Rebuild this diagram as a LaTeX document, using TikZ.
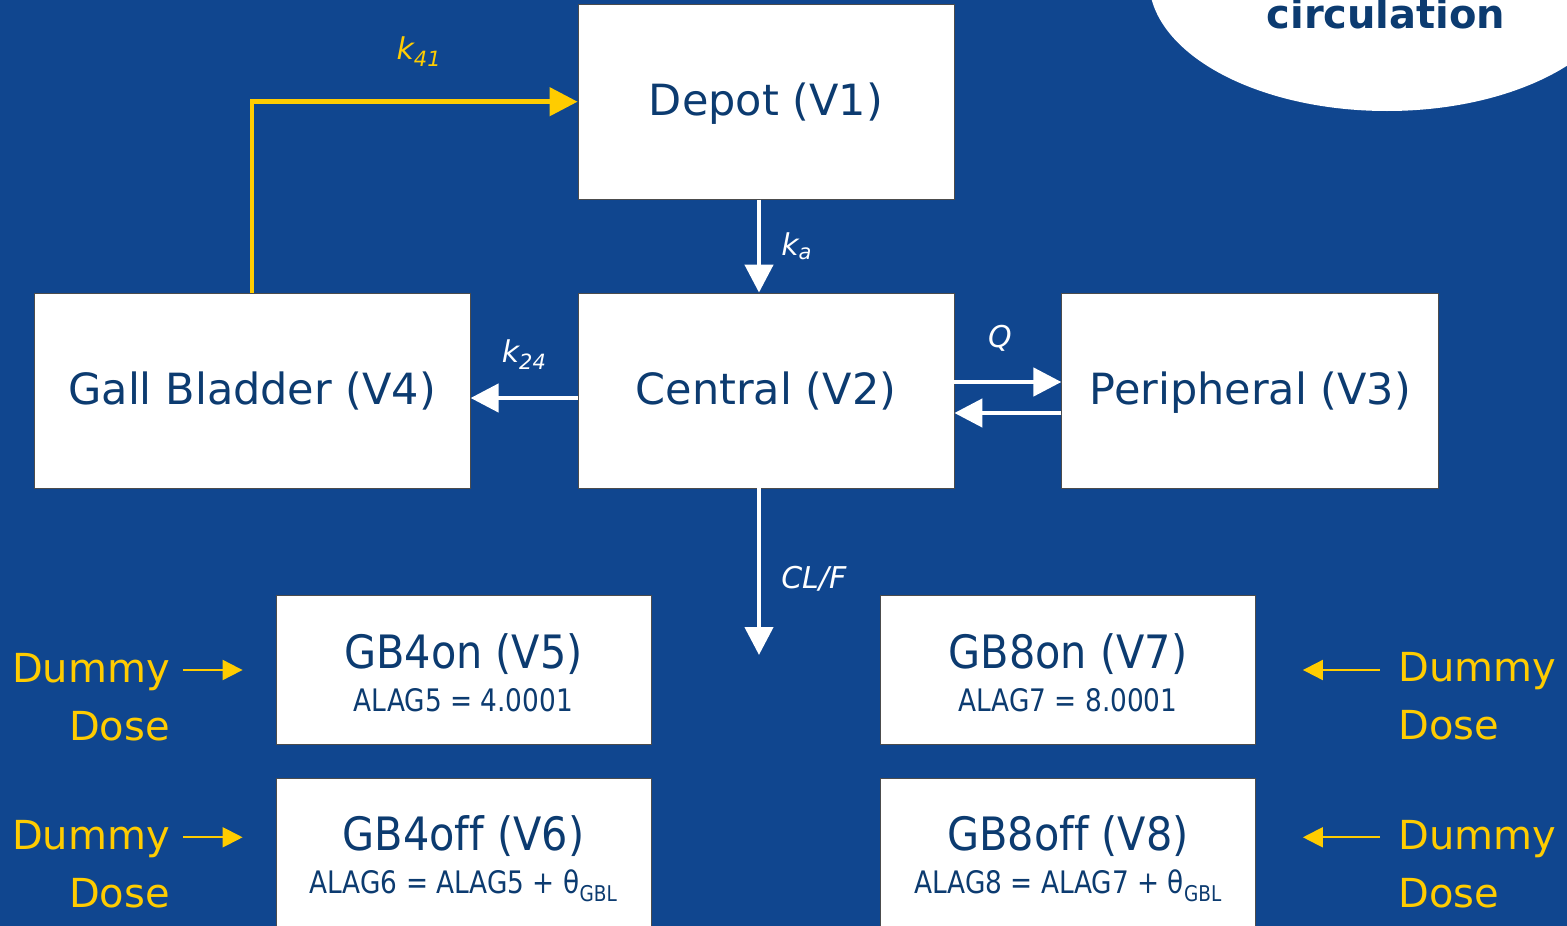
\documentclass[tikz,border=0pt]{standalone}
\usepackage{fontspec}
\setmainfont{DejaVu Sans}
\newfontfamily\gbfont{DejaVu Sans}[FakeStretch=0.9, Ligatures=NoCommon]
\newfontfamily\alagfont{DejaVu Sans}[FakeStretch=0.85]
\usetikzlibrary{arrows.meta,positioning,shapes.geometric}
\definecolor{slidebg}{HTML}{10468F}
\definecolor{boxtext}{HTML}{0C3B70}
\definecolor{dosegold}{HTML}{FFCC00}
\newcommand{\alag}[1]{{\alagfont\fontsize{31}{36}\selectfont #1\rule[-8pt]{0pt}{8pt}}}
\newcommand{\gbname}[1]{\rule{0pt}{47pt}#1}

\begin{document}
\begin{tikzpicture}[
    x=1pt, y=-1pt,
    every node/.style={inner sep=0pt},
    cmpbox/.style={draw=black!70, line width=0.8pt, fill=white, text=boxtext, align=center,
                   minimum width=376pt, minimum height=195pt, text height=38pt, text depth=10pt,
                   font=\fontsize{43}{50}\selectfont},
    gbbox/.style={draw=black!70, line width=0.8pt, fill=white, text=boxtext, align=center,
                  minimum width=375pt, minimum height=149pt, font=\gbfont\fontsize{46}{43}\selectfont},
    rate/.style={text=white, font=\fontsize{30}{36}\selectfont\itshape},
    dosetxt/.style={text=dosegold, font=\fontsize{40}{58}\selectfont},
    warr/.style={draw=white, line width=4.5pt, -{Triangle[length=28pt,width=28pt]}},
    yarr/.style={draw=dosegold, line width=4.5pt, -{Triangle[length=28pt,width=28pt]}},
    darr/.style={draw=dosegold, line width=2pt, -{Triangle[length=20pt,width=20pt]}}
  ]
  \clip (0,0) rectangle (1567,926);
  \useasboundingbox (0,0) rectangle (1567,926);
  \fill[slidebg] (0,0) rectangle (1567,926);

  % Top right: bubble
  \node[ellipse, fill=white, minimum width=476pt, minimum height=262pt] (bubble) at (1387,-20) {};
  \node[anchor=base, text=boxtext, font=\fontsize{40}{46}\selectfont\bfseries] (circ) at (1386,28) {circulation};

  % Compartments
  \node[cmpbox] (central) at (766,390.5) {Central (V2)};
  \node[cmpbox, above=93pt of central] (depot) {Depot (V1)};
  \node[cmpbox, left=107pt of central, minimum width=436pt] (gall) {Gall Bladder (V4)};
  \node[cmpbox, right=107pt of central, minimum width=377pt] (periph) {Peripheral (V3)};

  % Gall bladder emptying compartments
  \node[gbbox] (gb4on) at (463.5,670)
    {\gbname{GB4on (V5)}\\\alag{ALAG5 = 4.0001}};
  \node[gbbox, below=33pt of gb4on] (gb4off)
    {\gbname{GB4off (V6)}\\\alag{ALAG6 = ALAG5 + θ\textsubscript{GBL}}};
  \node[gbbox] (gb8on) at (1068,670)
    {\gbname{GB8on (V7)}\\\alag{ALAG7 = 8.0001}};
  \node[gbbox, below=33pt of gb8on] (gb8off)
    {\gbname{GB8off (V8)}\\\alag{ALAG8 = ALAG7 + θ\textsubscript{GBL}}};

  % Flows
  \draw[yarr] (gall.north) |- node[rate, text=dosegold, pos=0.75, above=33pt, xshift=4pt] (lk41) {k\textsubscript{41}} (depot.west);
  \draw[warr] ([xshift=-7pt]depot.south) -- node[rate, midway, right=20pt] (lka) {k\textsubscript{a}} ([xshift=-7pt]central.north);
  \draw[warr] ([yshift=-7.5pt]central.west) -- node[rate, midway, above=26pt] (lk24) {k\textsubscript{24}} ([yshift=-7.5pt]gall.east);
  \draw[warr] ([yshift=8.5pt]central.east) -- node[rate, midway, above=28pt, xshift=-8pt] (lq) {Q} ([yshift=8.5pt]periph.west);
  \draw[warr] ([yshift=-22.5pt]periph.west) -- ([yshift=-22.5pt]central.east);
  \coordinate (elim) at (759,655);
  \draw[warr] ([xshift=-7pt]central.south) -- node[rate, midway, right=20pt, yshift=-7pt] (lcl) {CL/F} (elim);

  % Dummy doses
  \node[dosetxt, align=right, anchor=north east] (dl1) at (170,653) {Dummy\\Dose};
  \node[dosetxt, align=right, anchor=north east] (dl2) at (170,820) {Dummy\\Dose};
  \node[dosetxt, align=left, anchor=north west] (dr1) at (1398,652) {Dummy\\Dose};
  \node[dosetxt, align=left, anchor=north west] (dr2) at (1398,820) {Dummy\\Dose};
  \draw[darr, shorten <=13pt, shorten >=33pt] (dl1.east |- gb4on.west) -- (gb4on.west);
  \draw[darr, shorten <=13pt, shorten >=33pt] ([yshift=15.5pt]dl2.east |- gb4off.west) -- ([yshift=15.5pt]gb4off.west);
  \draw[darr, shorten <=18pt, shorten >=47pt] (dr1.west |- gb8on.east) -- (gb8on.east);
  \draw[darr, shorten <=18pt, shorten >=47pt] ([yshift=15.5pt]dr2.west |- gb8off.east) -- ([yshift=15.5pt]gb8off.east);
\end{tikzpicture}
\end{document}
